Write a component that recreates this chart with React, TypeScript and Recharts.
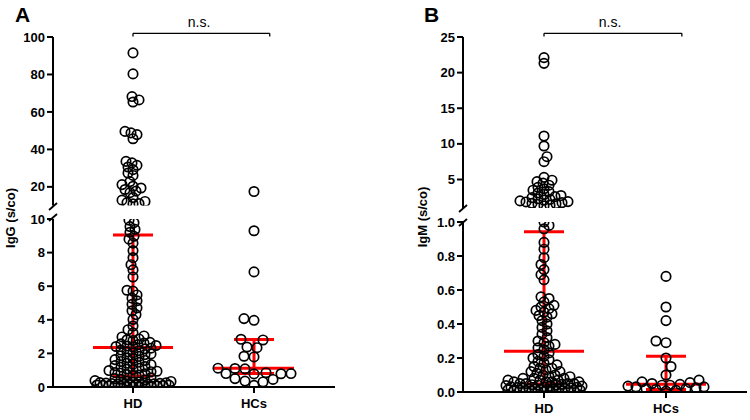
import React from 'react'
import { ScatterChart, Scatter, XAxis, YAxis, ReferenceLine } from 'recharts'

const GROUPS = ['HD', 'HCs']

// IgG (s/co)
const IGG_HD = [
  91.5, 80.3, 68.2, 66.4, 65.3, 49.6, 48.8, 47.9, 45.7, 33.6, 32.8, 31.5, 30.6, 29.2, 27.4,
  26.1, 22.8, 21.2, 20.3, 19.4, 18.6, 17.7, 16.9, 14.3, 12.9, 12.2, 11.6, 11.1, 10.9,
  9.93, 9.78, 9.55, 9.38, 9.21, 8.97, 8.8, 8.56, 8.12, 7.7, 7.28, 6.97, 6.55, 5.76, 5.71,
  5.48, 5.29, 5.13, 4.92, 4.71, 4.54, 4.31, 4.02, 3.63, 3.41, 3.22, 3.04, 2.98, 2.86, 2.81,
  2.77, 2.66, 2.61, 2.57, 2.52, 2.47, 2.44, 2.41, 2.38,
  2.31, 2.27, 2.2, 2.16, 2.09, 2.03, 1.97, 1.93, 1.86, 1.82, 1.74, 1.69, 1.63, 1.58, 1.52,
  1.47, 1.41, 1.36, 1.33, 1.27, 1.22, 1.18, 1.12, 1.07, 1.03, 0.98, 0.94, 0.91, 0.86, 0.82,
  0.79, 0.74, 0.71, 0.68,
  0.55, 0.5, 0.46, 0.42, 0.38, 0.35, 0.33, 0.3, 0.28, 0.26, 0.25, 0.23, 0.22, 0.2, 0.19,
  0.18, 0.17, 0.16, 0.15, 0.14, 0.13, 0.12, 0.11, 0.1, 0.09, 0.08, 0.07, 0.06, 0.06, 0.05,
  0.04, 0.03, 0.03, 0.02,
]
const IGG_HC = [
  17.5, 9.3, 6.85, 4.07, 3.97, 2.84, 2.8, 2.38, 2.34, 1.83, 1.79, 1.12, 1.1, 1.08, 0.85,
  0.8, 0.8, 0.79, 0.78, 0.5, 0.45, 0.35, 0.3, 0.1,
]
const IGG_MEDIAN = [2.35, 1.12]
const IGG_Q1 = [0.65, 0.8]
const IGG_Q3 = [9.05, 2.83]

// IgM (s/co)
const IGM_HD = [
  22.1, 21.3, 11.1, 9.7, 8.2, 7.5, 5.3, 4.9, 4.7, 4.5, 4.2, 3.9, 3.7, 3.5, 3.3, 3.1, 2.9,
  2.75, 2.6, 2.45, 2.3, 2.2, 2.1, 2.0, 1.9, 1.85, 1.75, 1.65, 1.6, 1.5, 1.4, 1.3,
  1.0, 0.98, 0.96, 0.88, 0.84, 0.79, 0.75, 0.72, 0.69, 0.66, 0.56, 0.55, 0.53, 0.51, 0.5,
  0.49, 0.48, 0.47, 0.46, 0.45, 0.44, 0.42, 0.4, 0.38, 0.36, 0.34, 0.32, 0.3, 0.29, 0.28,
  0.27, 0.26, 0.25,
  0.23, 0.22, 0.21, 0.2, 0.19, 0.18, 0.17, 0.16, 0.15, 0.14, 0.14, 0.13, 0.12, 0.12, 0.11,
  0.1, 0.1, 0.09, 0.09, 0.08, 0.08, 0.08, 0.07, 0.07, 0.07, 0.06, 0.06, 0.06, 0.06, 0.05,
  0.05, 0.05, 0.05,
  0.045, 0.043, 0.04, 0.04, 0.038, 0.035, 0.033, 0.03, 0.03, 0.028, 0.026, 0.025, 0.023,
  0.02, 0.02, 0.019, 0.018, 0.016, 0.015, 0.014, 0.013, 0.012, 0.011, 0.01, 0.01, 0.009,
  0.008, 0.007, 0.006, 0.005, 0.004, 0.003, 0.002,
]
const IGM_HC = [
  0.68, 0.5, 0.42, 0.3, 0.29, 0.2, 0.15, 0.1, 0.07, 0.06, 0.055, 0.05, 0.045, 0.04, 0.04,
  0.035, 0.03, 0.03, 0.025, 0.02, 0.02, 0.015, 0.01, 0.005,
]
const IGM_MEDIAN = [0.24, 0.045]
const IGM_Q1 = [0.047, 0.015]
const IGM_Q3 = [0.943, 0.21]

const IGG_TICKS_HIGH = [20, 40, 60, 80, 100]
const IGG_TICKS_LOW = [0, 2, 4, 6, 8, 10]
const IGM_TICKS_HIGH = [5, 10, 15, 20, 25]
const IGM_TICKS_LOW = [0, 0.2, 0.4, 0.6, 0.8, 1]

const FONT = 'Arial, "Liberation Sans", sans-serif'
const RED = '#ff0000'
const R = 4.7
// dense HD columns overlap, the small HCs group is spread out
const MIN_D = [5.5, 9.5]
const MAX_HALF = 38
const MED_HALF = 40
const CAP_HALF = 20
const BRACKET_END_X = 2.13

type Seg = { lo: number; hi: number; top: number; bottom: number; ticks: number[] }
type Panel = {
  left: number
  axisX: number
  endX: number
  catX: number
  step: number
  high: Seg
  low: Seg
}

const PANEL_A: Panel = {
  left: 0,
  axisX: 53,
  endX: 335,
  catX: 133,
  step: 121,
  high: { lo: 10, hi: 100, top: 37, bottom: 205.6, ticks: IGG_TICKS_HIGH },
  low: { lo: 0, hi: 10, top: 219, bottom: 387, ticks: IGG_TICKS_LOW },
}
const PANEL_B: Panel = {
  left: 380,
  axisX: 463,
  endX: 747,
  catX: 544,
  step: 122,
  high: { lo: 1, hi: 25, top: 37, bottom: 208, ticks: IGM_TICKS_HIGH },
  low: { lo: 0, hi: 1, top: 222, bottom: 392, ticks: IGM_TICKS_LOW },
}

// simple beeswarm: bottom-up, nearest free x offset, overlap allowed once the column is full
function swarm(values: number[], seg: Seg, cat: number, step: number, minD: number) {
  const pxOf = (v: number) =>
    seg.bottom - ((v - seg.lo) / (seg.hi - seg.lo)) * (seg.bottom - seg.top)
  const pts = values.map((v) => ({ v, py: pxOf(v) })).sort((a, b) => b.py - a.py)
  const placed: { px: number; py: number }[] = []
  const out: { x: number; y: number }[] = []
  pts.forEach((p, i) => {
    let chosen = 0
    let bestMd = -1
    let done = false
    for (let d = 0; d <= MAX_HALF && !done; d += 1) {
      const cands = d === 0 ? [0] : i % 2 ? [d, -d] : [-d, d]
      for (const c of cands) {
        let md = Infinity
        for (const q of placed) md = Math.min(md, Math.hypot(c - q.px, p.py - q.py))
        if (md >= minD) {
          chosen = c
          done = true
          break
        }
        if (md > bestMd + 0.01) {
          bestMd = md
          chosen = c
        }
      }
    }
    placed.push({ px: chosen, py: p.py })
    out.push({ x: cat + chosen / step, y: p.v })
  })
  return out
}

const dot = (props: any) => (
  <circle cx={props.cx} cy={props.cy} r={R} fill="none" stroke="#000" strokeWidth={1.7} />
)

const axisLine = { stroke: '#000', strokeWidth: 2 }
const tickStyle = { fill: '#000', fontSize: 13, fontWeight: 'bold' as const, fontFamily: FONT }

function PanelCharts({
  p,
  hd,
  hc,
  median,
  q1,
  q3,
  fmt,
}: {
  p: Panel
  hd: number[]
  hc: number[]
  median: number[]
  q1: number[]
  q3: number[]
  fmt: (v: number) => string
}) {
  const domainLo = 1 - (p.catX - p.axisX) / p.step
  const domainHi = domainLo + (p.endX - p.axisX) / p.step
  const yw = p.axisX - p.left
  const width = p.endX - p.left + 3
  const series = [hd, hc]

  const highData = series.map((vals, i) =>
    swarm(vals.filter((v) => v > p.low.hi), p.high, i + 1, p.step, MIN_D[i]),
  )
  const lowData = series.map((vals, i) =>
    swarm(vals.filter((v) => v <= p.low.hi), p.low, i + 1, p.step, MIN_D[i]),
  )

  // bracket sits 4px above the top of the upper segment
  const pxUnit = (p.high.bottom - p.high.top) / (p.high.hi - p.high.lo)
  const bracketY = p.high.hi + 3.7 / pxUnit
  const bracketFoot = p.high.hi + 0.5 / pxUnit

  const highH = p.high.bottom + 10
  const lowTop = p.low.top - 20
  const lowH = 420 - lowTop
  const medHalf = MED_HALF / p.step
  const capHalf = CAP_HALF / p.step

  return (
    <>
      <div style={{ position: 'absolute', left: p.left, top: 0 }}>
        <ScatterChart
          width={width}
          height={highH}
          margin={{ top: p.high.top, right: 3, bottom: 10, left: 0 }}
        >
          <XAxis
            type="number"
            dataKey="x"
            domain={[domainLo, domainHi]}
            allowDataOverflow
            hide
            height={0}
          />
          <YAxis
            type="number"
            dataKey="y"
            domain={[p.high.lo, p.high.hi]}
            allowDataOverflow
            ticks={p.high.ticks}
            interval={0}
            width={yw}
            tickSize={6}
            tickMargin={2}
            axisLine={axisLine}
            tickLine={axisLine}
            tick={tickStyle}
            tickFormatter={(v) => String(v)}
          />
          {highData.map((d, i) => (
            <Scatter key={i} data={d} shape={dot} isAnimationActive={false} />
          ))}
          <ReferenceLine
            segment={[{ x: 1, y: bracketY }, { x: BRACKET_END_X, y: bracketY }]}
            stroke="#000"
            strokeWidth={1.3}
            ifOverflow="visible"
          />
          <ReferenceLine
            segment={[{ x: 1, y: bracketY }, { x: 1, y: bracketFoot }]}
            stroke="#000"
            strokeWidth={1.3}
            ifOverflow="visible"
          />
          <ReferenceLine
            segment={[{ x: BRACKET_END_X, y: bracketY }, { x: BRACKET_END_X, y: bracketFoot }]}
            stroke="#000"
            strokeWidth={1.3}
            ifOverflow="visible"
          />
        </ScatterChart>
      </div>
      <div style={{ position: 'absolute', left: p.left, top: lowTop }}>
        <ScatterChart
          width={width}
          height={lowH}
          margin={{ top: 20, right: 3, bottom: 0, left: 0 }}
        >
          <XAxis
            type="number"
            dataKey="x"
            domain={[domainLo, domainHi]}
            allowDataOverflow
            ticks={[1, 2]}
            interval={0}
            height={420 - p.low.bottom}
            tickSize={6}
            tickMargin={6}
            axisLine={axisLine}
            tickLine={axisLine}
            tick={tickStyle}
            tickFormatter={(v) => GROUPS[Math.round(v) - 1] ?? ''}
          />
          <YAxis
            type="number"
            dataKey="y"
            domain={[p.low.lo, p.low.hi]}
            allowDataOverflow
            ticks={p.low.ticks}
            interval={0}
            width={yw}
            tickSize={6}
            tickMargin={2}
            axisLine={axisLine}
            tickLine={axisLine}
            tick={tickStyle}
            tickFormatter={fmt}
          />
          {lowData.map((d, i) => (
            <Scatter key={i} data={d} shape={dot} isAnimationActive={false} />
          ))}
          {GROUPS.map((_, i) => {
            const c = i + 1
            return (
              <React.Fragment key={i}>
                <ReferenceLine
                  segment={[{ x: c, y: q1[i] }, { x: c, y: q3[i] }]}
                  stroke={RED}
                  strokeWidth={3}
                />
                <ReferenceLine
                  segment={[{ x: c - medHalf, y: median[i] }, { x: c + medHalf, y: median[i] }]}
                  stroke={RED}
                  strokeWidth={3}
                />
                <ReferenceLine
                  segment={[{ x: c - capHalf, y: q1[i] }, { x: c + capHalf, y: q1[i] }]}
                  stroke={RED}
                  strokeWidth={3}
                />
                <ReferenceLine
                  segment={[{ x: c - capHalf, y: q3[i] }, { x: c + capHalf, y: q3[i] }]}
                  stroke={RED}
                  strokeWidth={3}
                />
              </React.Fragment>
            )
          })}
        </ScatterChart>
      </div>
    </>
  )
}

export default function App() {
  return (
    <div
      style={{
        position: 'absolute',
        left: 0,
        top: 0,
        width: 750,
        height: 420,
        background: '#fff',
        fontFamily: FONT,
        overflow: 'hidden',
      }}
    >
      <PanelCharts
        p={PANEL_A}
        hd={IGG_HD}
        hc={IGG_HC}
        median={IGG_MEDIAN}
        q1={IGG_Q1}
        q3={IGG_Q3}
        fmt={(v) => String(v)}
      />
      <PanelCharts
        p={PANEL_B}
        hd={IGM_HD}
        hc={IGM_HC}
        median={IGM_MEDIAN}
        q1={IGM_Q1}
        q3={IGM_Q3}
        fmt={(v) => v.toFixed(1)}
      />
      <svg
        width={750}
        height={420}
        style={{ position: 'absolute', left: 0, top: 0, pointerEvents: 'none' }}
        fontFamily={FONT}
      >
        <text x={15} y={22} fontSize={21} fontWeight="bold">A</text>
        <text x={424} y={22} fontSize={21} fontWeight="bold">B</text>
        <text x={199} y={27} fontSize={14} textAnchor="middle">n.s.</text>
        <text x={610} y={27} fontSize={14} textAnchor="middle">n.s.</text>
        <text
          transform="translate(10,218) rotate(-90)"
          textAnchor="middle"
          dominantBaseline="central"
          fontSize={13}
          fontWeight="bold"
        >
          IgG (s/co)
        </text>
        <text
          transform="translate(422,217) rotate(-90)"
          textAnchor="middle"
          dominantBaseline="central"
          fontSize={13}
          fontWeight="bold"
        >
          IgM (s/co)
        </text>
        {/* axis break marks */}
        <g stroke="#000" strokeWidth={1.8}>
          <line x1={49} y1={210} x2={57} y2={203} />
          <line x1={49} y1={221} x2={57} y2={214} />
          <line x1={459} y1={212} x2={467} y2={205} />
          <line x1={459} y1={226} x2={467} y2={219} />
        </g>
      </svg>
    </div>
  )
}
